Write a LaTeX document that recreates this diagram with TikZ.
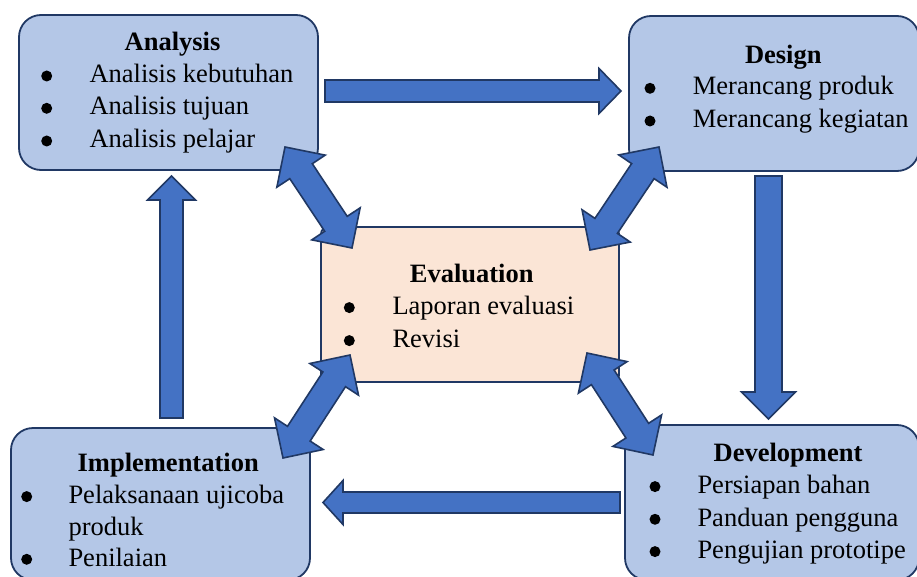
\documentclass[tikz,border=0pt]{standalone}
\usepackage{fontspec}
\setmainfont{Liberation Serif}
\usetikzlibrary{calc}
\definecolor{boxfill}{HTML}{B4C7E7}
\definecolor{evalfill}{HTML}{FBE5D6}
\definecolor{edge}{HTML}{203864}
\definecolor{arrfill}{HTML}{4472C4}
\tikzset{
  phase/.style={draw=edge, line width=1.8pt, fill=boxfill, rounded corners=22pt},
  evalbox/.style={draw=edge, line width=1.8pt, fill=evalfill, rounded corners=7pt},
  blk/.style={draw=edge, line width=1.6pt, fill=arrfill, line join=miter},
  ttl/.style={anchor=base, inner sep=0pt, font=\fontsize{26.5}{32}\selectfont\bfseries},
  itm/.style={anchor=base west, inner sep=0pt, font=\fontsize{26.5}{32}\selectfont},
  bul/.style={circle, fill=black, inner sep=0pt, minimum size=11pt},
}
\newcommand{\blockarrow}[5]{%
  \path ($(#2)!#5!(#1)$) coordinate (hh);
  \draw[blk] ($(#1)!#3!90:(#2)$) -- ($(hh)!#3!90:(#2)$) -- ($(hh)!#4!90:(#2)$) -- (#2)
    -- ($(hh)!#4!-90:(#2)$) -- ($(hh)!#3!-90:(#2)$) -- ($(#1)!#3!-90:(#2)$) -- cycle;
}
\newcommand{\dblarrow}[5]{%
  \path ($(#1)!#5!(#2)$) coordinate (ha) ($(#2)!#5!(#1)$) coordinate (hb);
  \draw[blk] (#1) -- ($(ha)!#4!90:(#2)$) -- ($(ha)!#3!90:(#2)$) -- ($(hb)!#3!-90:(#1)$)
    -- ($(hb)!#4!-90:(#1)$) -- (#2) -- ($(hb)!#4!90:(#1)$) -- ($(hb)!#3!90:(#1)$)
    -- ($(ha)!#3!-90:(#2)$) -- ($(ha)!#4!-90:(#2)$) -- cycle;
}
\begin{document}
\begin{tikzpicture}[x=1pt, y=-1pt]
\useasboundingbox (0,0) rectangle (917,577);
\clip (0,0) rectangle (917,577);
% boxes
\draw[phase] (19,15) rectangle (318,170);
\draw[phase] (629,16) rectangle (919,171);
\draw[evalbox] (321,227) rectangle (619,382);
\draw[phase] (11,428) rectangle (310,580);
\draw[phase] (625,425) rectangle (919,580);
% connector end points
\coordinate (r1) at (325,91);   \coordinate (r2) at (621,91);
\coordinate (d1) at (768.5,176); \coordinate (d2) at (768.5,419);
\coordinate (l1) at (620,502.5); \coordinate (l2) at (323,502.5);
\coordinate (u1) at (171.5,418); \coordinate (u2) at (171.5,176);
\coordinate (ae1) at (285,147); \coordinate (ae2) at (352,248);
\coordinate (de1) at (659,147); \coordinate (de2) at (590,250);
\coordinate (ie1) at (283,458); \coordinate (ie2) at (350,355);
\coordinate (ve1) at (653,455); \coordinate (ve2) at (587,353);
% arrows
\blockarrow{r1}{r2}{11pt}{22.5pt}{22pt}
\blockarrow{d1}{d2}{13.5pt}{27pt}{27pt}
\blockarrow{l1}{l2}{10.5pt}{22pt}{20pt}
\blockarrow{u1}{u2}{11.5pt}{24pt}{24pt}
\dblarrow{ae1}{ae2}{13.5pt}{29pt}{29pt}
\dblarrow{de1}{de2}{13.5pt}{29pt}{29pt}
\dblarrow{ie1}{ie2}{13.5pt}{29pt}{29pt}
\dblarrow{ve1}{ve2}{13.5pt}{29pt}{29pt}
% Analysis
\node[ttl] (at) at (172.5,50.7) {Analysis};
\node[bul] (ab1) at (46.7,76) {};
\node[itm] (a1) at (89.3,82.7) {Analisis kebutuhan};
\node[bul] (ab2) at (46.7,108.3) {};
\node[itm] (a2) at (89.3,115) {Analisis tujuan};
\node[bul] (ab3) at (46.7,141) {};
\node[itm] (a3) at (89.3,147.7) {Analisis pelajar};
% Design
\node[ttl] (dt) at (783.3,63.3) {Design};
\node[bul] (db1) at (650,88.3) {};
\node[itm] (dd1) at (692.7,95) {Merancang produk};
\node[bul] (db2) at (650,121) {};
\node[itm] (dd2) at (692.7,127.7) {Merancang kegiatan};
% Evaluation
\node[ttl] (et) at (471.7,282.7) {Evaluation};
\node[bul] (eb1) at (349.3,307.6) {};
\node[itm] (e1) at (392.3,314.3) {Laporan evaluasi};
\node[bul] (eb2) at (349.3,340.6) {};
\node[itm] (e2) at (392.3,347.3) {Revisi};
% Implementation
\node[ttl] (it) at (168.2,471.7) {Implementation};
\node[bul] (ib1) at (26.7,496.6) {};
\node[itm] (i1) at (68.3,503.3) {Pelaksanaan ujicoba};
\node[itm] (i2) at (68.3,535) {produk};
\node[bul] (ib2) at (26.7,559.3) {};
\node[itm] (i3) at (68.3,566) {Penilaian};
% Development
\node[ttl] (vt) at (788,461.7) {Development};
\node[bul] (vb1) at (655,486.6) {};
\node[itm] (v1) at (697.3,493.3) {Persiapan bahan};
\node[bul] (vb2) at (655,519.3) {};
\node[itm] (v2) at (697.3,526) {Panduan pengguna};
\node[bul] (vb3) at (655,551.6) {};
\node[itm] (v3) at (697.3,558.3) {Pengujian prototipe};
\end{tikzpicture}
\end{document}
